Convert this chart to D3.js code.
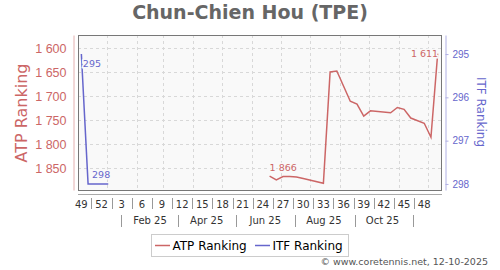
<!DOCTYPE html>
<html>
<head>
<meta charset="utf-8">
<script src="https://cdn.jsdelivr.net/npm/d3@7"></script>
<style>
body { margin: 0; background: #fff; }
svg { display: block; font-family: "DejaVu Sans", sans-serif; }
</style>
</head>
<body>
<div id="chart"></div>
<script>
// ranking weeks (Monday of each week) and values
const atpDates = ["2025-06-16", "2025-06-23", "2025-06-30", "2025-07-07", "2025-07-14", "2025-07-21",
  "2025-08-11", "2025-08-18", "2025-08-25", "2025-09-08", "2025-09-15", "2025-09-22", "2025-09-29",
  "2025-10-20", "2025-10-27", "2025-11-03", "2025-11-10", "2025-11-24", "2025-12-01", "2025-12-08"];
const atpRanks = [1866, 1874, 1867, 1867, 1868, 1871,
  1881, 1649, 1647, 1710, 1716, 1741, 1730,
  1734, 1723, 1727, 1745, 1756, 1785, 1611];

const itfDates = ["2024-12-02", "2024-12-09", "2024-12-16", "2024-12-23", "2024-12-30"];
const itfRanks = [295, 298, 298, 298, 298];

// x axis: week numbers every 3 weeks starting at week 49 of 2024, and month labels
const weekLabels = [49, 52, 3, 6, 9, 12, 15, 18, 21, 24, 27, 30, 33, 36, 39, 42, 45, 48];
const firstWeek = "2024-12-02";
const monthLabels = ["Feb 25", "Apr 25", "Jun 25", "Aug 25", "Oct 25"];
const monthDates = ["2025-02-01", "2025-04-01", "2025-06-01", "2025-08-01", "2025-10-01"];

const atpTicks = [1600, 1650, 1700, 1750, 1800, 1850];
const itfTicks = [295, 296, 297, 298];

const W = 500, H = 270;
const plot = { left: 78, right: 442, top: 35, bottom: 190 };
const atpColor = "#cc6666", itfColor = "#6666cc";

const parse = d3.timeParse("%Y-%m-%d");
const fmt = d3.formatLocale({ decimal: ".", thousands: " ", grouping: [3], currency: ["", ""] }).format(",d");

const svg = d3.select("#chart").append("svg")
  .attr("width", W)
  .attr("height", H);

const x = d3.scaleTime()
  .domain([parse("2024-12-02"), parse("2025-12-16")])
  .range([plot.left, plot.right]);
// points sit in the middle of their week
const xw = d => x(d3.timeHour.offset(d, 84));

const yL = d3.scaleLinear().domain([1572, 1895]).range([plot.top, plot.bottom]);
const yR = d3.scaleLinear().domain([294.56, 298.14]).range([plot.top, plot.bottom]);

// title
svg.append("text")
  .attr("x", 250).attr("y", 19)
  .attr("text-anchor", "middle")
  .style("font-size", "19px").style("font-weight", "bold")
  .style("fill", "#666")
  .text("Chun-Chien Hou (TPE)");

// plot background
svg.append("rect")
  .attr("x", plot.left).attr("y", plot.top)
  .attr("width", plot.right - plot.left).attr("height", plot.bottom - plot.top)
  .attr("fill", "#f9f9f9");

// grid
const months = d3.timeMonth.range(parse("2025-01-01"), parse("2025-12-02"));
svg.selectAll(".vgrid")
  .data(months)
  .join("line")
  .attr("x1", d => Math.round(x(d)) + 0.5).attr("x2", d => Math.round(x(d)) + 0.5)
  .attr("y1", plot.top).attr("y2", plot.bottom)
  .attr("stroke", "#d8d8d8").attr("stroke-dasharray", "3,3");

svg.selectAll(".hgrid")
  .data(atpTicks)
  .join("line")
  .attr("x1", plot.left).attr("x2", plot.right)
  .attr("y1", d => Math.round(yL(d)) + 0.5).attr("y2", d => Math.round(yL(d)) + 0.5)
  .attr("stroke", "#d8d8d8").attr("stroke-dasharray", "3,3");

// frame
svg.append("rect")
  .attr("x", plot.left + 0.5).attr("y", plot.top + 0.5)
  .attr("width", plot.right - plot.left - 1).attr("height", plot.bottom - plot.top)
  .attr("fill", "none").attr("stroke", "#777");

// left axis (ATP)
const axL = svg.append("g")
  .attr("transform", "translate(73.5,0)")
  .call(d3.axisLeft(yL).tickValues(atpTicks).tickFormat(fmt).tickSize(0).tickPadding(7));
axL.select(".domain").attr("stroke", "#e4b0b0");
axL.selectAll("text").style("font-size", "12.5px").style("fill", atpColor).attr("font-family", null);

svg.append("text")
  .attr("transform", "translate(27,113) rotate(-90)")
  .attr("text-anchor", "middle")
  .style("font-size", "16px").style("fill", atpColor)
  .text("ATP Ranking");

// right axis (ITF)
const axR = svg.append("g")
  .attr("transform", "translate(445.5,0)")
  .call(d3.axisRight(yR).tickValues(itfTicks).tickFormat(d3.format("d")).tickSize(3).tickPadding(4).tickSizeOuter(0));
axR.select(".domain").attr("stroke", "#b0b0e4");
axR.selectAll("line").attr("stroke", "#b0b0e4");
axR.selectAll("text").style("font-size", "10px").style("fill", itfColor).attr("font-family", null);

svg.append("text")
  .attr("transform", "translate(477,112) rotate(90)")
  .attr("text-anchor", "middle")
  .style("font-size", "12px").style("fill", itfColor)
  .text("ITF Ranking");

// bottom axis: week numbers
const weekDates = weekLabels.map((w, i) => d3.timeDay.offset(parse(firstWeek), i * 21));
svg.append("line")
  .attr("x1", plot.left).attr("x2", plot.right)
  .attr("y1", 194.5).attr("y2", 194.5)
  .attr("stroke", "#aaa");

svg.selectAll(".wlab")
  .data(weekDates)
  .join("text")
  .attr("x", d => xw(d)).attr("y", 208)
  .attr("text-anchor", "middle")
  .style("font-size", "10px").style("fill", "#333")
  .text((d, i) => weekLabels[i]);

svg.selectAll(".wsep")
  .data(weekDates.slice(0, -1))
  .join("line")
  .attr("x1", d => Math.round(x(d3.timeDay.offset(d, 14))) + 0.5)
  .attr("x2", d => Math.round(x(d3.timeDay.offset(d, 14))) + 0.5)
  .attr("y1", 198).attr("y2", 209)
  .attr("stroke", "#999");

// bottom axis: months
const mDates = monthDates.map(parse);
svg.selectAll(".mlab")
  .data(mDates)
  .join("text")
  .attr("x", d => x(d3.timeDay.offset(d, 14))).attr("y", 224)
  .attr("text-anchor", "middle")
  .style("font-size", "10px").style("fill", "#333")
  .text((d, i) => monthLabels[i]);

const mSeps = mDates.map(d => d3.timeDay.offset(d3.timeMonth.offset(d, -1), 15))
  .concat([d3.timeDay.offset(d3.timeMonth.offset(mDates[mDates.length - 1], 1), 15)]);
svg.selectAll(".msep")
  .data(mSeps)
  .join("line")
  .attr("x1", d => Math.round(x(d)) + 0.5).attr("x2", d => Math.round(x(d)) + 0.5)
  .attr("y1", 215).attr("y2", 227)
  .attr("stroke", "#999");

// lines
const atp = atpDates.map((d, i) => ({ date: parse(d), v: atpRanks[i] }));
const itf = itfDates.map((d, i) => ({ date: parse(d), v: itfRanks[i] }));

svg.append("path")
  .datum(atp)
  .attr("fill", "none").attr("stroke", atpColor).attr("stroke-width", 1.5)
  .attr("d", d3.line().x(d => xw(d.date)).y(d => yL(d.v)));

svg.append("path")
  .datum(itf)
  .attr("fill", "none").attr("stroke", itfColor).attr("stroke-width", 1.5)
  .attr("d", d3.line().x(d => xw(d.date)).y(d => yR(d.v)));

// value labels with a halo in the plot colour
function valueLabel(d, y, color, anchor, dx, dy) {
  svg.append("text")
    .attr("x", xw(d.date) + dx).attr("y", y(d.v) + dy)
    .attr("text-anchor", anchor)
    .style("font-size", "9.5px").style("fill", color)
    .style("stroke", "#f9f9f9").style("stroke-width", 3).style("paint-order", "stroke")
    .text(fmt(d.v));
}
valueLabel(itf[0], yR, itfColor, "start", 1.5, 12.5);
valueLabel(itf[1], yR, itfColor, "start", 4, -6);
valueLabel(atp[0], yL, atpColor, "start", 0, -5.5);
valueLabel(atp[atp.length - 1], yL, atpColor, "end", 0.5, 3.5);

// legend
const lg = svg.append("g");
lg.append("rect")
  .attr("x", 151.5).attr("y", 234.5).attr("width", 197).attr("height", 22)
  .attr("fill", "#fff").attr("stroke", "#ccc");
const items = [{ name: "ATP Ranking", color: atpColor, x: 155 }, { name: "ITF Ranking", color: itfColor, x: 255 }];
items.forEach(it => {
  lg.append("line")
    .attr("x1", it.x).attr("x2", it.x + 15)
    .attr("y1", 245.5).attr("y2", 245.5)
    .attr("stroke", it.color).attr("stroke-width", 1.5);
  lg.append("text")
    .attr("x", it.x + 17.5).attr("y", 250)
    .style("font-size", "12px").style("fill", "#000")
    .text(it.name);
});

// footer
svg.append("text")
  .attr("x", 488).attr("y", 265)
  .attr("text-anchor", "end")
  .style("font-size", "9.5px").style("fill", "#555")
  .text("\u00a9 www.coretennis.net, 12-10-2025");
</script>
</body>
</html>
